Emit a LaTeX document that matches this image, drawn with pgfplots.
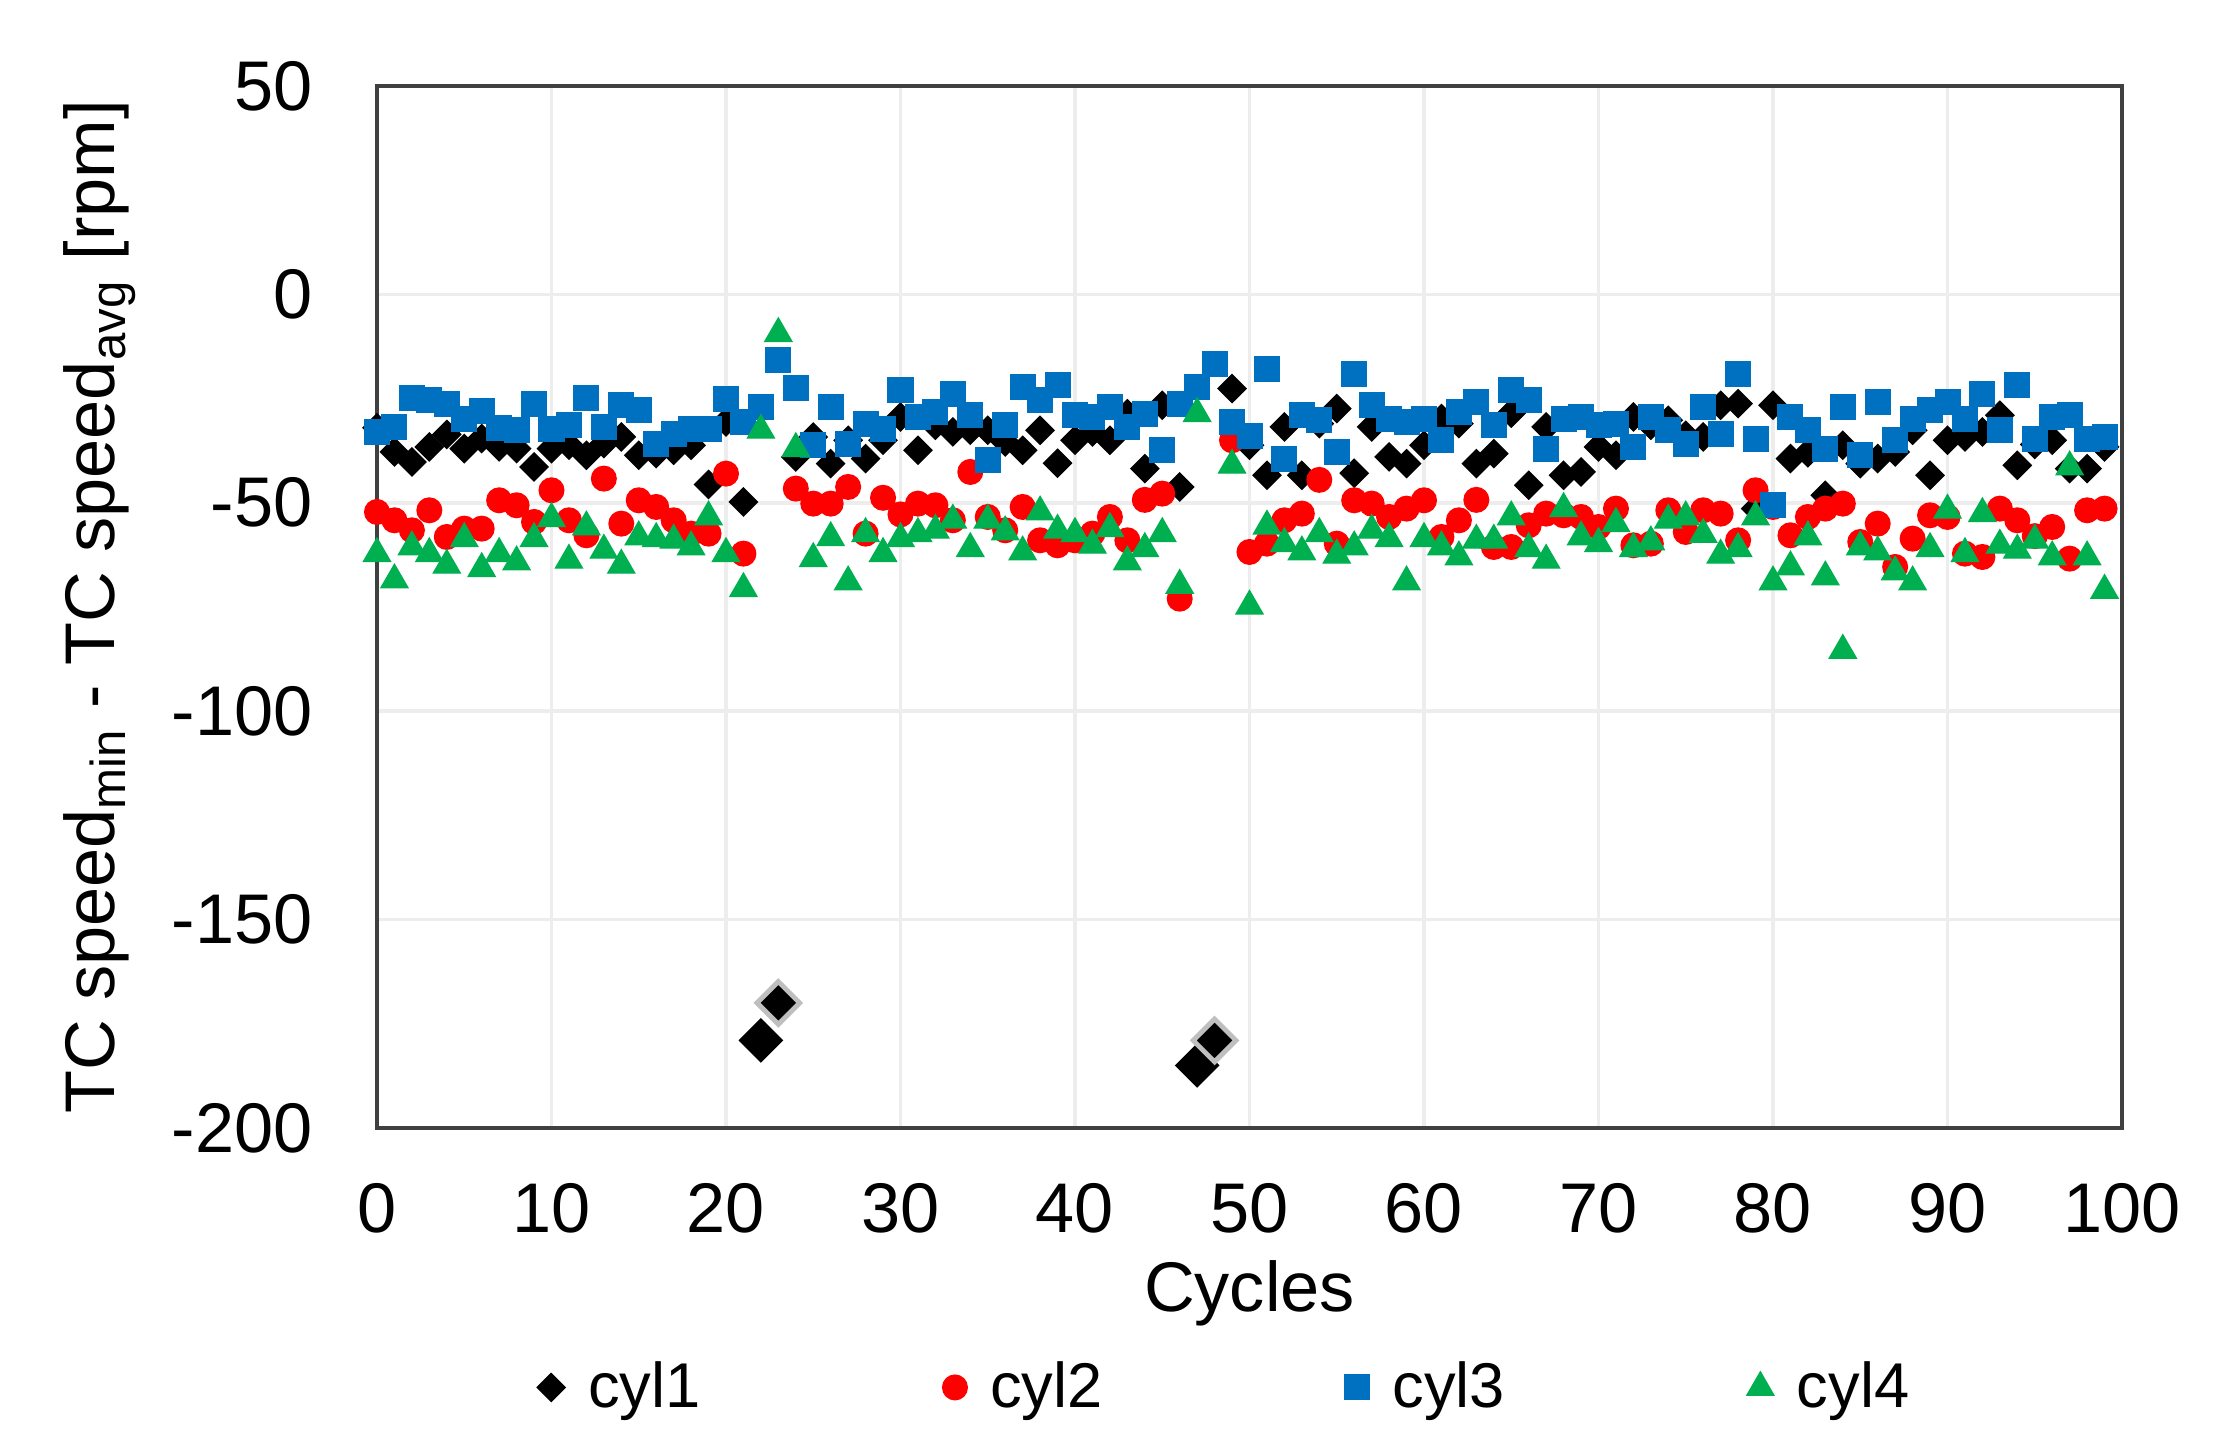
\documentclass[border=0pt]{standalone}
\usepackage{fontspec}
\setmainfont{Liberation Sans}
\usepackage{pgfplots}
\pgfplotsset{compat=1.18}

\definecolor{c1}{HTML}{000000}
\definecolor{c2}{HTML}{FF0000}
\definecolor{c3}{HTML}{0070C0}
\definecolor{c4}{HTML}{00B050}

\begin{document}
\begin{tikzpicture}
\useasboundingbox (-3.77,-3.22) rectangle (18.60,11.28);
\begin{axis}[
    at={(0,0)}, anchor=south west,
    scale only axis,
    width=17.45cm, height=10.42cm,
    xmin=0, xmax=100, ymin=-200, ymax=50,
    xtick={0,10,...,100},
    ytick={-200,-150,...,50},
    major tick length=0pt,
    grid=major,
    major grid style={black!7, line width=1pt},
    axis line style={black!75, line width=1.2pt},
    /pgf/number format/assume math mode=true,
    tick label style={font=\fontsize{20}{24}\selectfont},
    yticklabel style={xshift=-5.2mm},
    xticklabel style={yshift=-4.3mm},
    xlabel={Cycles},
    ylabel={TC speed\textsubscript{min} - TC speed\textsubscript{avg} [rpm]},
    label style={font=\fontsize{20}{24}\selectfont},
    xlabel style={at={(axis description cs:0.5,-0.159)}, anchor=center},
    ylabel style={at={(axis description cs:-0.1587,0.5)}, anchor=center, rotate=0},
    legend columns=4,
    legend style={draw=none, fill=none, at={(0.487,-0.249)}, anchor=center,
        font=\fontsize{18}{21}\selectfont,
        /tikz/every odd column/.append style={column sep=1.6mm},
        /tikz/every even column/.append style={column sep=2.35cm}},
]
% cyl1
\addplot[only marks, mark=square*, mark size=2.8pt, mark options={rotate=45, fill=c1, draw=c1}] table {
x y
0 -32
1 -37.8
2 -40.2
3 -36.6
4 -33.6
5 -37
6 -34.6
7 -36.6
8 -37
9 -41.4
10 -37
11 -36.2
12 -38.6
13 -35.8
14 -34.2
15 -38.6
16 -38.2
17 -37.4
18 -36.2
19 -45.6
20 -30.6
21 -49.8
24 -39
25 -34.2
26 -40.6
27 -35
28 -39.4
29 -35
30 -29.4
31 -37.4
32 -31.4
33 -33
34 -32.6
35 -32.6
36 -35.4
37 -37.4
38 -32.6
39 -40.5
40 -35
41 -33
42 -35
43 -28.6
44 -41.8
45 -26.6
46 -46.2
49 -22.6
50 -36.2
51 -43.4
52 -31.8
53 -43.4
54 -31
55 -27.4
56 -42.9
57 -31.8
58 -39
59 -40.6
60 -36.2
61 -29.8
62 -31
63 -40.6
64 -38.2
65 -28.5
66 -45.8
67 -31.8
68 -43.4
69 -42.6
70 -36.6
71 -38.6
72 -29.4
73 -31.4
74 -30.2
75 -33.8
76 -34.2
77 -26.6
78 -26.2
79 -51.4
80 -26.6
81 -39.4
82 -38
83 -48.2
84 -36.2
85 -40.6
86 -39.4
87 -37.8
88 -32.6
89 -43.4
90 -35
91 -34.2
92 -33
93 -29
94 -41
95 -36
96 -35
97 -41.8
98 -41.8
99 -36.6
};
\addlegendentry{cyl1}
% cyl2
\addplot[only marks, mark=*, mark size=3.5pt, mark options={fill=c2, draw=c2}] table {
x y
0 -52.2
1 -54.2
2 -56.6
3 -51.8
4 -58.2
5 -56.2
6 -56.2
7 -49.4
8 -50.6
9 -54.6
10 -47
11 -54.2
12 -57.8
13 -44.2
14 -55
15 -49.4
16 -51
17 -54.2
18 -57.4
19 -57.4
20 -43
21 -62.2
24 -46.6
25 -50.2
26 -50.2
27 -46.2
28 -57.4
29 -48.8
30 -52.8
31 -50.2
32 -50.6
33 -54.2
34 -42.6
35 -53.4
36 -56.6
37 -51
38 -59
39 -60.2
40 -59
41 -57.4
42 -53.4
43 -59
44 -49.3
45 -47.8
46 -73
49 -35
50 -61.8
51 -59.8
52 -54.2
53 -52.6
54 -44.5
55 -59.8
56 -49.4
57 -50.2
58 -53.4
59 -51.4
60 -49.4
61 -58.2
62 -54.2
63 -49.3
64 -60.6
65 -60.6
66 -55.4
67 -52.6
68 -53
69 -53.4
70 -55.8
71 -51.4
72 -60.2
73 -59.8
74 -51.8
75 -57
76 -51.8
77 -52.6
78 -59
79 -47
80 -51
81 -57.8
82 -53.4
83 -51.4
84 -50.2
85 -59.4
86 -55
87 -65.4
88 -58.6
89 -53
90 -53.4
91 -62.2
92 -63
93 -51.4
94 -54.2
95 -58
96 -55.8
97 -63.4
98 -51.8
99 -51.4
};
\addlegendentry{cyl2}
% cyl3
\addplot[only marks, mark=square*, mark size=3.5pt, mark options={fill=c3, draw=c3}] table {
x y
0 -33
1 -31.8
2 -24.8
3 -25.4
4 -26.2
5 -30
6 -28
7 -32
8 -32.5
9 -26.4
10 -32.2
11 -31.4
12 -24.8
13 -31.8
14 -26.6
15 -27.8
16 -35.8
17 -33.4
18 -32.2
19 -32.2
20 -25
21 -30.6
22 -26.9
23 -15.8
24 -22.5
25 -36.2
26 -27
27 -35.8
28 -31
29 -32.2
30 -23
31 -29.4
32 -28.2
33 -23.8
34 -29
35 -39.8
36 -31.4
37 -22.2
38 -25.4
39 -21.8
40 -29
41 -29.4
42 -27
43 -31.8
44 -28.6
45 -37.4
46 -26.2
47 -22.2
48 -16.6
49 -30.6
50 -34
51 -17.8
52 -39.4
53 -29
54 -30.2
55 -37.8
56 -19
57 -26.6
58 -29.8
59 -30.6
60 -29.8
61 -35
62 -28.2
63 -25.8
64 -31.4
65 -23
66 -25.4
67 -37
68 -29.8
69 -29.4
70 -31.4
71 -31
72 -36.6
73 -29.4
74 -32.6
75 -35.8
76 -27
77 -33.4
78 -19
79 -34.6
80 -50.6
81 -29.4
82 -32.6
83 -37
84 -27
85 -38.6
86 -25.8
87 -35
88 -29.8
89 -27.8
90 -25.8
91 -29.8
92 -23.8
93 -32.6
94 -21.8
95 -34.6
96 -29.4
97 -29
98 -34.6
99 -34.2
};
\addlegendentry{cyl3}
% cyl4
\addplot[only marks, mark=triangle*, mark size=4.4pt, mark options={fill=c4, draw=c4}] table {
x y
0 -62.2
1 -68.5
2 -60.6
3 -62.2
4 -65
5 -58.6
6 -65.8
7 -62.2
8 -64.2
9 -58.6
10 -53.8
11 -63.8
12 -55.8
13 -61.4
14 -65
15 -58.2
16 -58.6
17 -59
18 -60.6
19 -53.4
20 -62.2
21 -70.6
22 -32.6
23 -9.4
24 -37
25 -63.4
26 -58.4
27 -69
28 -57.4
29 -62.2
30 -58.6
31 -57.4
32 -56.6
33 -54.2
34 -61
35 -54.2
36 -57
37 -61.8
38 -52.2
39 -56.6
40 -57.4
41 -60.2
42 -56.2
43 -64.2
44 -61
45 -57.4
46 -69.8
47 -28.6
49 -41
50 -74.8
51 -55.6
52 -59.8
53 -61.8
54 -57.4
55 -62.6
56 -60.6
57 -56.6
58 -58.6
59 -69
60 -58.6
61 -60.6
62 -63
63 -59
64 -59
65 -53.4
66 -61
67 -63.8
68 -51.4
69 -58.2
70 -59.8
71 -55
72 -61
73 -59.4
74 -54.2
75 -53.4
76 -57.6
77 -62.6
78 -61
79 -53.4
80 -69
81 -65.4
82 -58.2
83 -67.8
84 -85.4
85 -60.6
86 -61.8
87 -66.6
88 -69
89 -61
90 -51.8
91 -62.2
92 -52.6
93 -60.2
94 -61.4
95 -59
96 -63
97 -41.4
98 -63
99 -71
};
\addlegendentry{cyl4}
% cyl1 outliers, drawn larger
\addplot[forget plot, only marks, mark=square*, mark size=4.3pt, mark options={rotate=45, fill=black, draw=black}] table {
x y
22 -179
47 -185
};
\addplot[forget plot, only marks, mark=square*, mark size=4.3pt, mark options={rotate=45, fill=black, draw=black!25, line width=1.4pt}] table {
x y
23 -170
48 -179
};
\end{axis}
\end{tikzpicture}
\end{document}
